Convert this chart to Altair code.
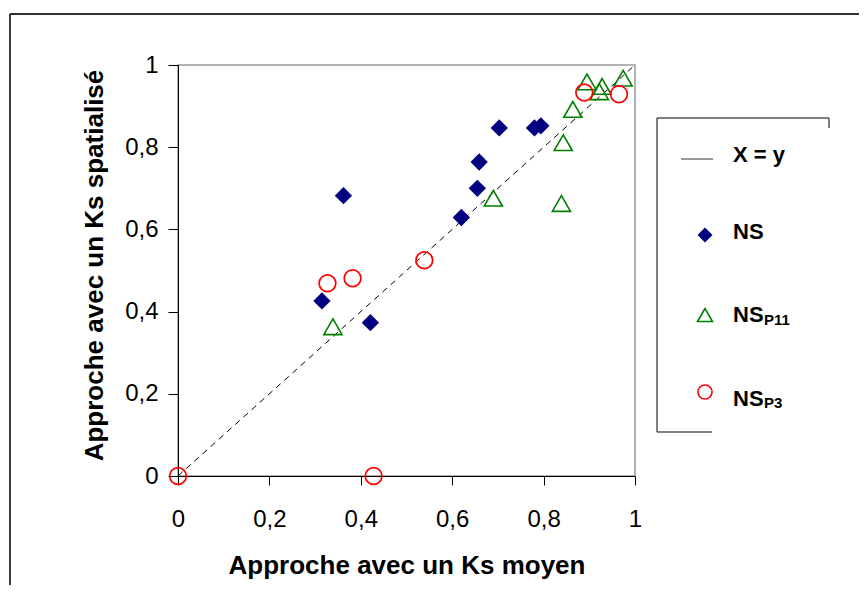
import altair as alt
import pandas as pd

# --- data ---
ns_x = [0.315, 0.362, 0.421, 0.620, 0.655, 0.659, 0.703, 0.780, 0.794]
ns_y = [0.426, 0.682, 0.373, 0.629, 0.700, 0.764, 0.847, 0.847, 0.852]

p11_x = [0.339, 0.690, 0.839, 0.843, 0.864, 0.895, 0.928, 0.922, 0.974]
p11_y = [0.363, 0.676, 0.663, 0.811, 0.892, 0.959, 0.948, 0.935, 0.968]

p3_x = [0.0, 0.428, 0.327, 0.382, 0.539, 0.889, 0.965]
p3_y = [0.0, 0.0, 0.469, 0.481, 0.525, 0.933, 0.929]

line_x = [0.0, 1.0]
line_y = [0.0, 1.0]

tick_values = [0, 0.2, 0.4, 0.6, 0.8, 1]
x_title = "Approche avec un Ks moyen"
y_title = "Approche avec un Ks spatialisé"
legend_labels = ["X = y", "NS", "NS", "NS"]
legend_subs = ["P11", "P3"]

FONT = "Liberation Sans"

ns_df = pd.DataFrame({"x": ns_x, "y": ns_y})
p11_df = pd.DataFrame({"x": p11_x, "y": p11_y})
p3_df = pd.DataFrame({"x": p3_x, "y": p3_y})
line_df = pd.DataFrame({"x": line_x, "y": line_y})

xscale = alt.Scale(domain=[0, 1], nice=False, zero=False)
yscale = alt.Scale(domain=[0, 1], nice=False, zero=False)

x_axis = alt.Axis(
    values=tick_values, format="~g", labelExpr="replace(datum.label, '.', ',')",
    grid=False, tickSize=9, labelPadding=41, labelBaseline="alphabetic",
    labelFlush=False, labelFontSize=24, labelFont=FONT, labelColor="black",
    title=x_title, titleFont=FONT, titleFontSize=26, titleFontWeight="bold",
    titleColor="black", titleBaseline="alphabetic", titleY=97, titleX=228.5,
    titleAlign="center", domainColor="black", tickColor="black",
)
y_axis = alt.Axis(
    values=tick_values, format="~g", labelExpr="replace(datum.label, '.', ',')",
    grid=False, tickSize=10, labelPadding=10,
    labelFontSize=24, labelFont=FONT, labelColor="black",
    title=y_title, titleFont=FONT, titleFontSize=26, titleFontWeight="bold",
    titleColor="black", titleBaseline="alphabetic", titleX=-76, titleY=200,
    titleAlign="center", domainColor="black", tickColor="black",
)

X = alt.X("x:Q", scale=xscale, axis=x_axis)
Y = alt.Y("y:Q", scale=yscale, axis=y_axis)

diag = alt.Chart(line_df).mark_line(color="black", strokeWidth=1, strokeDash=[6, 5]).encode(x=X, y=Y)
ns = alt.Chart(ns_df).mark_point(shape="diamond", filled=True, color="#000080", size=300, opacity=1).encode(x=X, y=Y)
p11 = alt.Chart(p11_df).mark_point(shape="triangle-up", filled=False, color="#008000", size=330, strokeWidth=1.6, opacity=1).encode(x=X, y=Y)
p3 = alt.Chart(p3_df).mark_point(shape="circle", filled=False, color="#FF0000", size=280, strokeWidth=1.7, opacity=1).encode(x=X, y=Y)

one = alt.Data(values=[{"k": 1}])

def rule(x, x2, y, y2, color, w):
    return alt.Chart(one).mark_rule(color=color, strokeWidth=w).encode(
        x=alt.value(x), x2=alt.value(x2), y=alt.value(y), y2=alt.value(y2))

def txt(x, y, s, size):
    return alt.Chart(one).mark_text(
        align="left", baseline="alphabetic", font=FONT, fontSize=size,
        fontWeight="bold", color="black").encode(
        x=alt.value(x), y=alt.value(y), text=alt.value(s))

def sym(x, y, shape, color, filled, size):
    return alt.Chart(one).mark_point(
        shape=shape, filled=filled, color=color, size=size, strokeWidth=1.6, opacity=1).encode(
        x=alt.value(x), y=alt.value(y))

# outer chart frame
frame = [
    rule(-168, 700, -51, -51, "#333333", 2),
    rule(-168, -168, -51, 540, "black", 1.5),
]

# legend box
legend_box = [
    rule(479, 651, 53, 53, "#555555", 1.5),
    rule(479, 479, 53, 367, "#555555", 1.5),
    rule(479, 534, 367, 367, "#555555", 1.5),
    rule(651, 651, 53, 63, "#555555", 1.5),
]

legend_items = [
    rule(503, 535, 94, 94, "#333333", 1),
    txt(555, 97, legend_labels[0], 22),
    sym(527, 170, "diamond", "#000080", True, 225),
    txt(555, 174, legend_labels[1], 22),
    sym(527, 250, "triangle-up", "#008000", False, 225),
    txt(555, 257, legend_labels[2], 22),
    txt(586, 260, legend_subs[0], 15),
    sym(527, 327, "circle", "#FF0000", False, 200),
    txt(555, 341, legend_labels[3], 22),
    txt(586, 343, legend_subs[1], 15),
]

chart = alt.layer(diag, ns, p11, p3, *frame, *legend_box, *legend_items).properties(
    width=457, height=411,
    autosize=alt.AutoSizeParams(type="none"),
    padding={"left": 170, "top": 57, "right": 224, "bottom": 109},
).configure_view(stroke="#999999", strokeWidth=1.5)

chart.save("out.html", embed_options={"renderer": "svg", "actions": False})
